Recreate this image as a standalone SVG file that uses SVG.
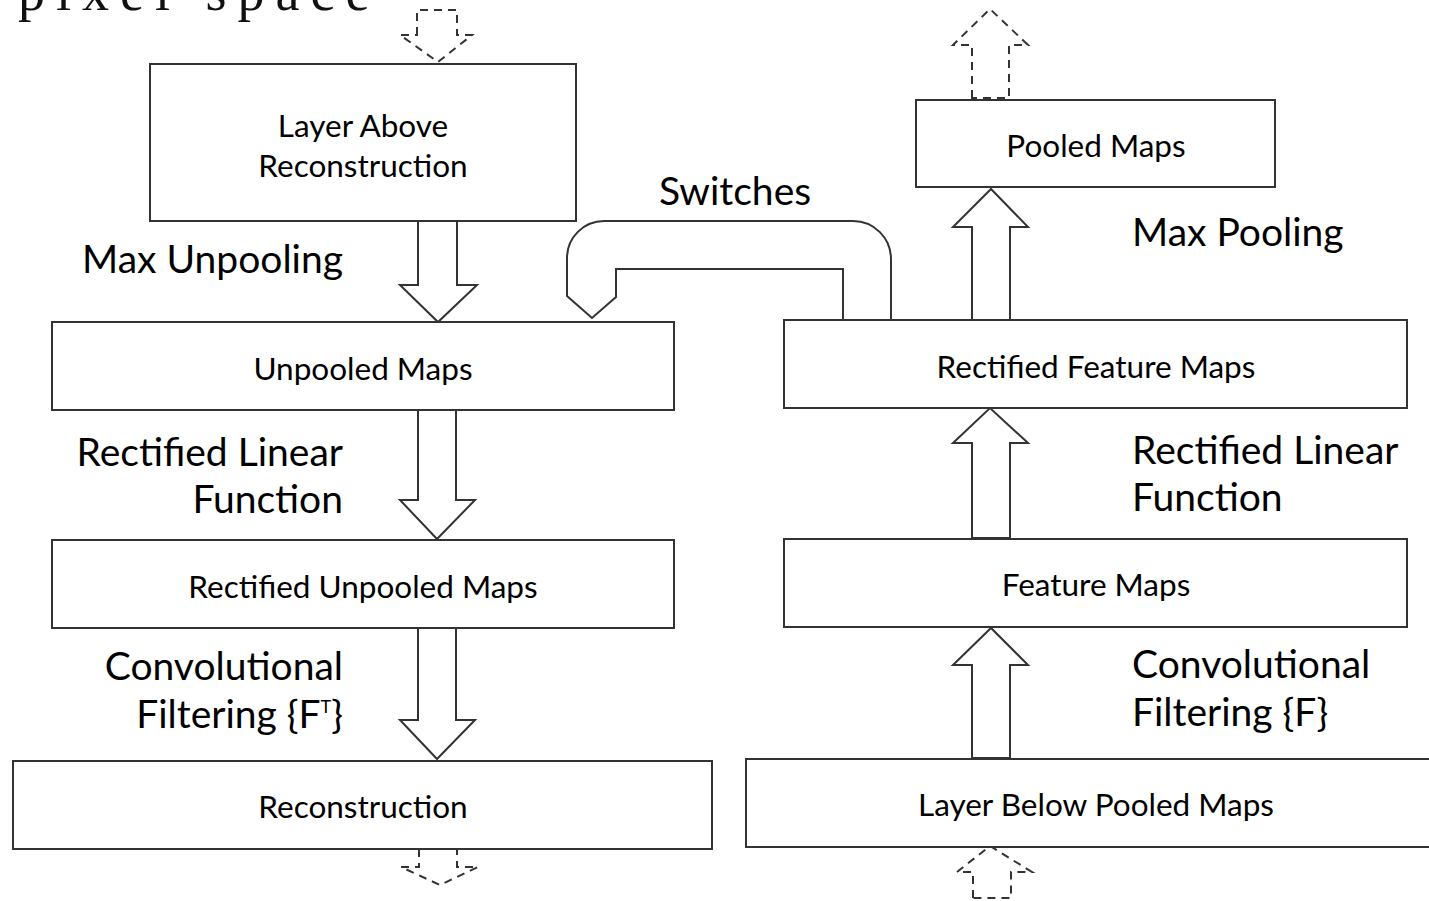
<svg xmlns="http://www.w3.org/2000/svg" width="1429" height="901" viewBox="0 0 1429 901">
<style>
.box{fill:#fff;stroke:#333;stroke-width:2}
.arr{fill:#fff;stroke:#333;stroke-width:2;stroke-linejoin:miter}
.dash{fill:none;stroke:#333;stroke-width:2;stroke-dasharray:8 6}
.bt{font-family:Lato,"Liberation Sans",sans-serif;font-size:31.5px;fill:#000;text-anchor:middle}
.lb{font-family:Lato,"Liberation Sans",sans-serif;font-size:39px;fill:#000}
.r{text-anchor:end}
.ps{font-family:"Liberation Serif",serif;font-size:54px;fill:#111;letter-spacing:11px}
</style>
<rect width="1429" height="901" fill="#fff"/>
<text class="ps" x="18" y="10">pixel space</text>
<g id="connectors">
<path class="dash" d="M417,35 V10 H457 V35 H472 L438,62 L400,35 Z"/>
<path class="dash" d="M972,98 V45 H953 L990,9 L1028,45 H1009 V98 Z"/>
<path class="dash" d="M419,849 V867 H401 L440,885 L478,867 H457 V849"/>
<path class="dash" d="M973,898 V872 H957 L990,846 L1032,872 H1011 V898 Z"/>
<path class="arr" d="M418,221 V285 H400 L438,322 L477,285 H457 V221 Z"/>
<path class="arr" d="M418,410 V500 H400 L437,539 L475,500 H456 V410 Z"/>
<path class="arr" d="M418,628 V720 H400 L437,759 L475,720 H456 V628 Z"/>
<path class="arr" d="M972,320 V227 H953 L991,189 L1028,227 H1010 V320 Z"/>
<path class="arr" d="M972,538 V443 H953 L990,408 L1028,443 H1010 V538 Z"/>
<path class="arr" d="M972,758 V665 H953 L991,628 L1028,665 H1010 V758 Z"/>
<path class="arr" d="M843,320 V269 H616 V297 L592,318 L567,296 V258 A37,37 0 0 1 604,221 H853 A38,38 0 0 1 891,259 V320"/>
</g>
<g id="n1"><rect class="box" x="150" y="64" width="426" height="157"/><text class="bt" x="363" y="137">Layer Above</text><text class="bt" x="363" y="177">Reconstruction</text></g>
<g id="n2"><rect class="box" x="52" y="322" width="622" height="88"/><text class="bt" x="363" y="380">Unpooled Maps</text></g>
<g id="n3"><rect class="box" x="52" y="540" width="622" height="88"/><text class="bt" x="363" y="598">Rectified Unpooled Maps</text></g>
<g id="n4"><rect class="box" x="13" y="761" width="699" height="88"/><text class="bt" x="363" y="818">Reconstruction</text></g>
<g id="n5"><rect class="box" x="916" y="100" width="359" height="87"/><text class="bt" x="1096" y="157">Pooled Maps</text></g>
<g id="n6"><rect class="box" x="784" y="320" width="623" height="88"/><text class="bt" x="1096" y="378">Rectified Feature Maps</text></g>
<g id="n7"><rect class="box" x="784" y="539" width="623" height="88"/><text class="bt" x="1096" y="596">Feature Maps</text></g>
<g id="n8"><path class="box" d="M1432,759 H746 V847 H1432"/><text class="bt" x="1096" y="816">Layer Below Pooled Maps</text></g>
<g id="labels">
<text class="lb r" x="343" y="273">Max Unpooling</text>
<text class="lb r" x="343" y="466">Rectified Linear</text>
<text class="lb r" x="343" y="513">Function</text>
<text class="lb r" x="343" y="680">Convolutional</text>
<text class="lb r" x="343" y="728">Filtering {F<tspan font-size="18" dy="-15">T</tspan><tspan dy="15">}</tspan></text>
<text class="lb" x="735" y="205" text-anchor="middle">Switches</text>
<text class="lb" x="1132" y="246">Max Pooling</text>
<text class="lb" x="1132" y="464">Rectified Linear</text>
<text class="lb" x="1132" y="511">Function</text>
<text class="lb" x="1132" y="678">Convolutional</text>
<text class="lb" x="1132" y="726">Filtering {F}</text>
</g>
</svg>
